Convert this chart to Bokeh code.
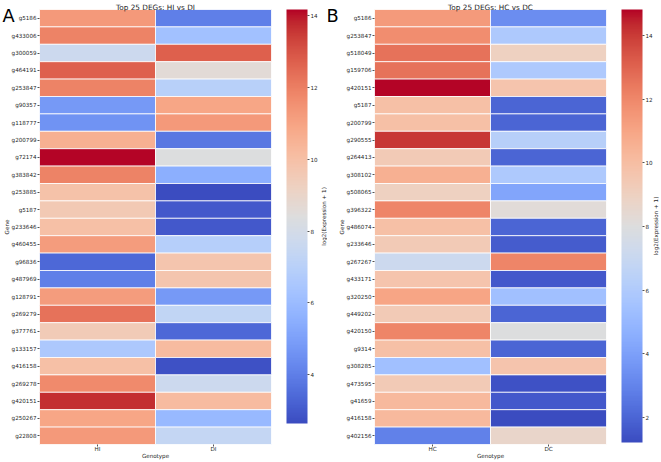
import numpy as np
from bokeh.plotting import figure
from bokeh.models import (LinearColorMapper, LinearAxis, FixedTicker, Range1d,
                          Label, ColumnDataSource)
from bokeh.transform import transform
from bokeh.layouts import row
from bokeh.embed import file_html
from bokeh.resources import INLINE

# ---------------- data ----------------
genes_a = ["g5186", "g433006", "g300059", "g464191", "g253847", "g90357", "g118777",
           "g200799", "g72174", "g383842", "g253885", "g5187", "g233646", "g460455",
           "g96836", "g487969", "g128791", "g269279", "g377761", "g133157", "g416158",
           "g269278", "g420151", "g250267", "g22808"]
hi_vals = [11.3, 11.9, 7.7, 12.7, 11.9, 4.8, 4.6, 10.6, 14.17, 11.9, 9.9, 9.6, 10.0,
           11.2, 3.4, 4.0, 11.2, 12.3, 9.5, 6.6, 10.0, 11.7, 13.7, 10.9, 11.3]
di_vals = [4.0, 6.2, 12.7, 8.6, 7.0, 10.9, 11.3, 3.8, 8.4, 5.5, 2.64, 3.0, 3.0,
           6.9, 9.8, 9.8, 4.8, 7.3, 3.4, 10.2, 2.8, 7.7, 10.2, 5.9, 7.4]

genes_b = ["g5186", "g253847", "g518049", "g159706", "g420151", "g5187", "g200799",
           "g290555", "g264413", "g308102", "g508065", "g396322", "g486074", "g233646",
           "g267267", "g433171", "g320250", "g449202", "g420150", "g9314", "g308285",
           "g473595", "g41659", "g416158", "g402156"]
hc_vals = [11.4, 11.8, 12.6, 12.6, 14.82, 9.9, 9.9, 14.1, 9.4, 10.6, 9.0, 12.1, 9.9,
           9.4, 7.2, 9.7, 11.0, 9.4, 12.1, 9.9, 5.4, 9.4, 10.2, 10.2, 2.9]
dc_vals = [3.3, 5.9, 9.0, 5.9, 9.7, 2.0, 2.0, 6.3, 2.0, 5.9, 4.2, 8.2, 2.0,
           1.7, 12.1, 1.6, 5.4, 2.0, 8.0, 2.0, 9.7, 1.4, 1.6, 1.22, 8.7]

cols_a = ["HI", "DI"]
cols_b = ["HC", "DC"]
ticks_a = [4, 6, 8, 10, 12, 14]
ticks_b = [2, 4, 6, 8, 10, 12, 14]
title_a = "Top 25 DEGs: HI vs DI"
title_b = "Top 25 DEGs: HC vs DC"
cbar_label = "log2(Expression + 1)"

# ---------------- coolwarm palette ----------------
CW = [(59, 76, 192), (68, 90, 204), (77, 104, 215), (87, 117, 225), (98, 130, 234),
      (108, 142, 241), (119, 154, 247), (130, 165, 251), (141, 176, 254), (152, 185, 255),
      (163, 194, 255), (174, 201, 253), (184, 208, 249), (194, 213, 244), (204, 217, 238),
      (213, 219, 230), (221, 221, 221), (229, 216, 209), (236, 211, 197), (241, 204, 184),
      (245, 196, 172), (247, 187, 159), (247, 177, 147), (247, 166, 134), (244, 154, 123),
      (241, 141, 111), (236, 127, 99), (229, 112, 89), (222, 96, 77), (213, 80, 68),
      (203, 62, 56), (192, 40, 47), (180, 4, 38)]


def make_palette(n=256):
    arr = np.array(CW, dtype=float)
    xs = np.linspace(0, 1, len(CW))
    out = []
    for v in np.linspace(0, 1, n):
        r, g, b = (np.interp(v, xs, arr[:, k]) for k in range(3))
        out.append("#%02x%02x%02x" % (int(round(r)), int(round(g)), int(round(b))))
    return out


PAL = make_palette()
FONT = "DejaVu Sans"
TXT = "#262626"
SMALL = "5.6px"
H = 462
HEAT_T, HEAT_B = 9, 444


def style_axis(ax):
    ax.axis_line_color = None
    ax.major_tick_line_color = TXT
    ax.major_tick_line_width = 0.8
    ax.major_tick_out = 2
    ax.major_tick_in = 0
    ax.minor_tick_line_color = None
    ax.major_label_text_font = FONT
    ax.major_label_text_font_size = SMALL
    ax.major_label_text_color = TXT
    ax.axis_label_text_font = FONT
    ax.axis_label_text_font_size = SMALL
    ax.axis_label_text_color = TXT
    ax.axis_label_text_font_style = "normal"


def base_fig(w, xr, yr):
    p = figure(width=w, height=H, x_range=xr, y_range=yr, min_border=0,
               x_axis_location=None, y_axis_location=None, toolbar_location=None,
               output_backend="svg")
    p.grid.visible = False
    p.outline_line_color = None
    return p


def heatmap(genes, cols, v1, v2, title, letter, fig_w, heat_l, heat_r, letter_x):
    n = len(genes)
    pxx = (heat_r - heat_l) / 2.0
    pxy = (HEAT_B - HEAT_T) / float(n)
    xr = Range1d(-heat_l / pxx, 2 + (fig_w - heat_r) / pxx)
    yr = Range1d(-(H - HEAT_B) / pxy, n + HEAT_T / pxy)
    p = base_fig(fig_w, xr, yr)

    vals = list(v1) + list(v2)
    mapper = LinearColorMapper(palette=PAL, low=min(vals), high=max(vals))
    src = ColumnDataSource(dict(
        x=[j + 0.5 for j in range(2) for _ in range(n)],
        y=[n - i - 0.5 for _ in range(2) for i in range(n)],
        gene=list(genes) * 2,
        geno=[c for c in cols for _ in range(n)],
        val=vals,
    ))
    p.rect(x="x", y="y", width=1, height=1, source=src,
           fill_color=transform("val", mapper), line_color="white", line_width=0.8)

    xax = LinearAxis(fixed_location=0, bounds=(0, 2),
                     ticker=FixedTicker(ticks=[0.5, 1.5]),
                     major_label_overrides={0.5: cols[0], 1.5: cols[1]},
                     axis_label="Genotype")
    style_axis(xax)
    xax.major_label_standoff = -1
    xax.axis_label_standoff = -2
    p.add_layout(xax, "below")

    yt = [n - i - 0.5 for i in range(n)]
    yax = LinearAxis(fixed_location=0, bounds=(0, n), ticker=FixedTicker(ticks=yt),
                     major_label_overrides={t: g for t, g in zip(yt, genes)},
                     axis_label="Gene")
    style_axis(yax)
    yax.major_label_standoff = 1
    yax.axis_label_standoff = -1
    p.add_layout(yax, "left")

    p.add_layout(Label(x=1.0, y=n + (HEAT_T - 6.7) / pxy, text=title,
                       text_align="center", text_baseline="alphabetic",
                       text_font=FONT, text_font_size="7.3px", text_color=TXT))
    p.add_layout(Label(x=(letter_x - heat_l) / pxx, y=n + (HEAT_T - 15) / pxy,
                       text=letter, text_align="left", text_baseline="alphabetic",
                       text_font=FONT, text_font_size="17.8px", text_color="black"))
    return p, min(vals), max(vals)


def colorbar(vmin, vmax, ticks, fig_w, bar_l, bar_r, bar_t, bar_b, label_x):
    pxx = float(bar_r - bar_l)
    pxy = (bar_b - bar_t) / (vmax - vmin)
    xr = Range1d(-bar_l / pxx, 1 + (fig_w - bar_r) / pxx)
    yr = Range1d(vmin - (H - bar_b) / pxy, vmax + bar_t / pxy)
    p = base_fig(fig_w, xr, yr)
    grad = np.linspace(vmin, vmax, 256).reshape(-1, 1)
    cm = LinearColorMapper(palette=PAL, low=vmin, high=vmax)
    p.image(image=[grad], x=0, y=vmin, dw=1, dh=vmax - vmin, color_mapper=cm)
    ax = LinearAxis(fixed_location=1, bounds=(vmin, vmax), ticker=FixedTicker(ticks=ticks))
    style_axis(ax)
    ax.major_label_standoff = 1
    p.add_layout(ax, "right")
    p.add_layout(Label(x=(label_x - bar_l) / pxx, y=(vmin + vmax) / 2.0, text=cbar_label,
                       angle=np.pi / 2, text_align="center", text_baseline="middle",
                       text_font=FONT, text_font_size=SMALL, text_color=TXT))
    return p


# layout (pixels within each figure)
pa, amin, amax = heatmap(genes_a, cols_a, hi_vals, di_vals, title_a, "A",
                         281, 39, 271, 2)
ca = colorbar(amin, amax, ticks_a, 46, 5, 26, 9, 423, 42)
pb, bmin, bmax = heatmap(genes_b, cols_b, hc_vals, dc_vals, title_b, "B",
                         289, 47, 279, -1)
cb = colorbar(bmin, bmax, ticks_b, 45, 5, 26, 9, 442, 39)

layout = row(pa, ca, pb, cb, spacing=0)
open("out.html", "w").write(file_html(layout, INLINE))
